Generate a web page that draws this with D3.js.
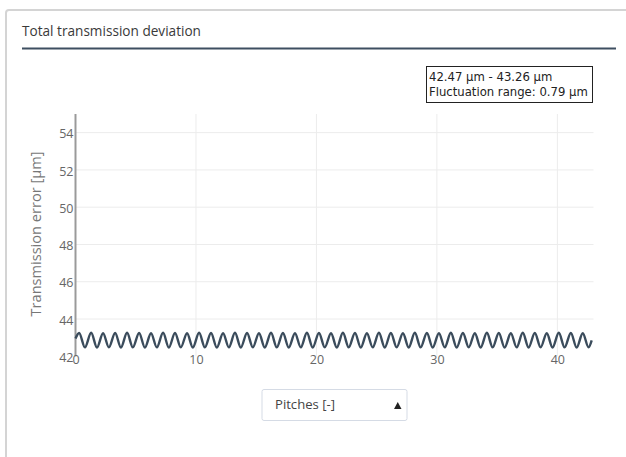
<!DOCTYPE html>
<html>
<head>
<meta charset="utf-8">
<script src="https://cdn.jsdelivr.net/npm/d3@7"></script>
<style>
  html, body { margin: 0; padding: 0; background: #fff; }
  svg { display: block; font-family: "Open Sans", "Noto Sans", sans-serif; }
</style>
</head>
<body>
<svg id="chart" width="626" height="457"></svg>
<script>
// Pitch positions (turning points of the transmission error curve)
const pitch = [
  0.00,
  0.30, 0.78, 1.30, 1.78, 2.29, 2.77, 3.29, 3.77, 4.28, 4.76,
  5.28, 5.76, 6.27, 6.75, 7.27, 7.75, 8.26, 8.74, 9.26, 9.74,
  10.26, 10.74, 11.25, 11.73, 12.25, 12.73, 13.24, 13.72, 14.24, 14.72,
  15.23, 15.71, 16.23, 16.71, 17.22, 17.70, 18.22, 18.70, 19.21, 19.69,
  20.21, 20.69, 21.21, 21.69, 22.20, 22.68, 23.20, 23.68, 24.19, 24.67,
  25.19, 25.67, 26.18, 26.66, 27.18, 27.66, 28.17, 28.65, 29.17, 29.65,
  30.17, 30.65, 31.16, 31.64, 32.16, 32.64, 33.15, 33.63, 34.15, 34.63,
  35.14, 35.62, 36.14, 36.62, 37.13, 37.61, 38.13, 38.61, 39.12, 39.60,
  40.12, 40.60, 41.12, 41.60, 42.11, 42.59,
  42.85
];
// Transmission error [µm] at each pitch position
const error = [
  42.95,
  43.25, 42.48, 43.26, 42.47, 43.24, 42.48, 43.25, 42.47, 43.26, 42.48,
  43.25, 42.47, 43.24, 42.48, 43.26, 42.47, 43.25, 42.48, 43.24, 42.47,
  43.26, 42.48, 43.25, 42.47, 43.24, 42.48, 43.26, 42.47, 43.25, 42.48,
  43.24, 42.47, 43.26, 42.48, 43.25, 42.47, 43.24, 42.48, 43.26, 42.47,
  43.25, 42.48, 43.24, 42.47, 43.26, 42.48, 43.25, 42.47, 43.24, 42.48,
  43.26, 42.47, 43.25, 42.48, 43.24, 42.47, 43.26, 42.48, 43.25, 42.47,
  43.24, 42.48, 43.26, 42.47, 43.25, 42.48, 43.24, 42.47, 43.26, 42.48,
  43.25, 42.47, 43.24, 42.48, 43.26, 42.47, 43.25, 42.48, 43.24, 42.47,
  43.26, 42.48, 43.25, 42.47, 43.24, 42.48,
  42.85
];
const xTicks = [0, 10, 20, 30, 40];
const yTicks = [42, 44, 46, 48, 50, 52, 54];
const legendLines = ["42.47 µm - 43.26 µm", "Fluctuation range: 0.79 µm"];
const chartTitle = "Total transmission deviation";
const yTitle = "Transmission error [µm]";
const xSelector = "Pitches [-]";

const svg = d3.select("#chart");

// scale a text's font size so that it spans the given width
function fitWidth(sel, width) {
  sel.each(function () {
    const node = this;
    const size = parseFloat(node.getAttribute("font-size"));
    const len = node.getComputedTextLength();
    if (len > 0) node.setAttribute("font-size", (size * width / len).toFixed(2));
  });
}

// card frame
svg.append("rect")
  .attr("x", 6).attr("y", 10).attr("width", 660).attr("height", 470)
  .attr("rx", 3)
  .attr("fill", "#fff").attr("stroke", "#d4d4d4").attr("stroke-width", 2);

// header
svg.append("text")
  .attr("x", 22).attr("y", 36)
  .attr("font-size", 13).attr("fill", "#3a3a3a")
  .text(chartTitle)
  .call(fitWidth, 179);
svg.append("line")
  .attr("x1", 22).attr("x2", 616).attr("y1", 48.5).attr("y2", 48.5)
  .attr("stroke", "#3e4f61").attr("stroke-width", 2);

// plot geometry
const plotLeft = 75.5, plotRight = 593.5, plotTop = 114, plotBottom = 356.3;
const x = d3.scaleLinear().domain([0, 43]).range([plotLeft, plotRight]);
const y = d3.scaleLinear().domain([42, 55]).range([plotBottom, plotTop]);

// grid
const grid = svg.append("g");
grid.selectAll(".gx").data(xTicks.filter(d => d > 0)).join("line")
  .attr("x1", d => x(d)).attr("x2", d => x(d))
  .attr("y1", plotTop).attr("y2", plotBottom)
  .attr("stroke", "#ececec").attr("stroke-width", 1);
grid.selectAll(".gy").data(yTicks.filter(d => d > 42)).join("line")
  .attr("x1", plotLeft).attr("x2", plotRight)
  .attr("y1", d => y(d)).attr("y2", d => y(d))
  .attr("stroke", "#ececec").attr("stroke-width", 1);

// y axis
const yAxis = svg.append("g")
  .attr("transform", `translate(${plotLeft},0)`)
  .call(d3.axisLeft(y).tickValues(yTicks).tickSize(0).tickPadding(2));
yAxis.select(".domain").remove();
yAxis.selectAll("text")
  .attr("font-family", "'Open Sans', sans-serif")
  .attr("font-size", 12.5).attr("fill", "#666")
  .attr("dy", "0.42em");
svg.append("line")
  .attr("x1", plotLeft).attr("x2", plotLeft).attr("y1", plotTop).attr("y2", plotBottom)
  .attr("stroke", "#9a9a9a").attr("stroke-width", 2);

// x axis
const xAxis = svg.append("g")
  .attr("transform", `translate(0,${plotBottom})`)
  .call(d3.axisBottom(x).tickValues(xTicks).tickSize(0).tickPadding(1));
xAxis.select(".domain").remove();
xAxis.selectAll("text")
  .attr("font-family", "'Open Sans', sans-serif")
  .attr("font-size", 12.5).attr("fill", "#666")
  .attr("dy", "0.5em");

// y axis title
svg.append("text")
  .attr("transform", `translate(41,234) rotate(-90)`)
  .attr("text-anchor", "middle")
  .attr("font-size", 14).attr("fill", "#777")
  .text(yTitle)
  .call(fitWidth, 165);

// curve
const points = pitch.map((p, i) => [p, error[i]]);
svg.append("path")
  .datum(points)
  .attr("fill", "none")
  .attr("stroke", "#3b4c5c")
  .attr("stroke-width", 2.4)
  .attr("stroke-linejoin", "round")
  .attr("d", d3.line().x(d => x(d[0])).y(d => y(d[1])).curve(d3.curveMonotoneX));

// range box
const lg = svg.append("g");
lg.append("rect")
  .attr("x", 426.5).attr("y", 66.5).attr("width", 166).attr("height", 36)
  .attr("fill", "#fff").attr("stroke", "#222").attr("stroke-width", 1);
const lgText = lg.selectAll("text").data(legendLines).join("text")
  .attr("x", 429).attr("y", (d, i) => 81 + i * 14.5)
  .attr("font-family", "'DejaVu Sans', sans-serif")
  .attr("font-size", 11).attr("fill", "#222")
  .text(d => d);
fitWidth(lgText.filter((d, i) => i === 1), 159);
lgText.filter((d, i) => i === 0)
  .attr("font-size", lgText.filter((d, i) => i === 1).attr("font-size"));

// axis selector
const sel = svg.append("g");
sel.append("rect")
  .attr("x", 262).attr("y", 389.5).attr("width", 145).attr("height", 31)
  .attr("rx", 2)
  .attr("fill", "#fff").attr("stroke", "#d5dbe5").attr("stroke-width", 1);
sel.append("text")
  .attr("x", 275).attr("y", 409)
  .attr("font-size", 13).attr("fill", "#444")
  .text(xSelector)
  .call(fitWidth, 60);
sel.append("path")
  .attr("d", "M394,409 L401.5,409 L397.75,402 Z")
  .attr("fill", "#222");
</script>
</body>
</html>
